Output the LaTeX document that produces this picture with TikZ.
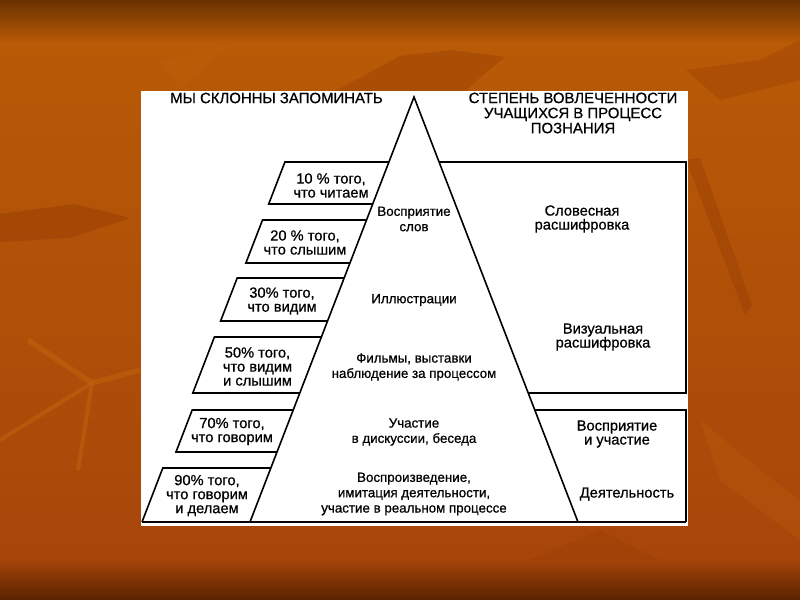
\documentclass[tikz,border=0pt]{standalone}
\usepackage{fontspec}
\setmainfont{Liberation Sans}[FakeBold=0.7]
\begin{document}
\begin{tikzpicture}[x=0.75pt,y=-0.75pt,
  ln/.style={line width=1.2pt,line join=miter},
  boxtxt/.style={align=center,inner sep=0pt,font=\fontsize{11}{10.5}\selectfont},
  pyrtxt/.style={align=center,inner sep=0pt,font=\fontsize{10}{11.5}\selectfont},
  ttl/.style={align=center,inner sep=0pt,font=\fontsize{11.2}{11.3}\selectfont}]
\definecolor{bgtop}{HTML}{6A3200}
\definecolor{bgor}{HTML}{B85A06}
\definecolor{bgmid}{HTML}{A8460A}
\definecolor{bgbot}{HTML}{5A2200}
\definecolor{leafdk}{HTML}{8E3504}
\definecolor{leaflt}{HTML}{C2640E}
\useasboundingbox (0,0) rectangle (800,600);
% background
\fill[top color=bgor,bottom color=bgmid] (0,40) rectangle (800,560);
\fill[top color=bgtop,bottom color=bgor] (0,0) rectangle (800,42);
\fill[top color=bgmid,bottom color=bgbot] (0,558) rectangle (800,600);
% leaves
\fill[leafdk,opacity=0.35] (0,214) -- (75,204) -- (130,218) -- (70,238) -- (0,242) -- cycle;
\fill[leafdk,opacity=0.3] (330,94) -- (400,56) -- (452,50) -- (505,57) -- (482,76) -- (462,94) -- cycle;
\fill[leafdk,opacity=0.3] (686,160) -- (700,158) -- (752,305) -- (745,315) -- cycle;
\draw[leaflt,opacity=0.5,line width=4pt] (28,340) -- (92,383) -- (140,370);
\draw[leaflt,opacity=0.5,line width=3pt] (0,440) -- (92,383) -- (78,470);
\fill[leaflt,opacity=0.25] (700,420) -- (760,470) -- (800,500) -- (800,540) -- (720,480) -- cycle;
\fill[leafdk,opacity=0.25] (686,70) -- (760,60) -- (800,40) -- (800,80) -- (720,100) -- cycle;
\fill[leaflt,opacity=0.2] (160,60) -- (230,45) -- (180,90) -- cycle;
\fill[leafdk,opacity=0.2] (530,560) -- (600,530) -- (660,560) -- cycle;
% white panel
\fill[white] (141,91) rectangle (688,526);
% key points
\coordinate (apex) at (414,97);
\coordinate (bl) at (250,522);
\coordinate (br) at (578,522);
% pyramid
\draw[ln] (bl) -- (apex) -- (br);
\draw[ln] (142,522) -- (686,522);
% left parallelograms
\draw[ln] (388.9,162) -- (284.9,162) -- (268.7,204) -- (372.7,204);
\draw[ln] (366.5,220) -- (262.5,220) -- (245.9,263) -- (349.9,263);
\draw[ln] (344.2,278) -- (237.2,278) -- (220.6,321) -- (327.6,321);
\draw[ln] (321.4,337) -- (214.4,337) -- (192.8,393) -- (299.8,393);
\draw[ln] (293.2,410) -- (192.2,410) -- (176,452) -- (277,452);
\draw[ln] (270.8,468) -- (162.8,468) -- (142,522);
% right boxes
\draw[ln] (439.1,162) -- (686,162) -- (686,393) -- (528.2,393);
\draw[ln] (534.8,410) -- (686,410) -- (686,522);
% titles
\node[ttl] (t1) at (276.5,98) {МЫ СКЛОННЫ ЗАПОМИНАТЬ};
\node[ttl] (t2) at (573,113) {СТЕПЕНЬ ВОВЛЕЧЕННОСТИ\\УЧАЩИХСЯ В ПРОЦЕСС\\ПОЗНАНИЯ};
% left box texts
\node[boxtxt] (l1) at (331,185.5) {10 \% того,\\что читаем};
\node[boxtxt] (l2) at (305,242.5) {20 \% того,\\что слышим};
\node[boxtxt] (l3) at (282,301) {30\% того,\\что видим};
\node[boxtxt] (l4) at (257.5,366.5) {50\% того,\\что видим\\и слышим};
\node[boxtxt] (l5) at (232,431.5) {70\% того,\\что говорим};
\node[boxtxt] (l6) at (207,495.5) {90\% того,\\что говорим\\и делаем};
% pyramid texts
\node[pyrtxt] (p1) at (414,219) {Восприятие\\слов};
\node[pyrtxt] (p2) at (414,300) {Иллюстрации};
\node[pyrtxt] (p3) at (414,367) {Фильмы, выставки\\наблюдение за процессом};
\node[pyrtxt] (p4) at (414,432) {Участие\\в дискуссии, беседа};
\node[pyrtxt] (p5) at (414,494) {Воспроизведение,\\имитация деятельности,\\участие в реальном процессе};
% right texts
\node[boxtxt] (r1) at (582,219) {Словесная\\расшифровка};
\node[boxtxt] (r2) at (603,337) {Визуальная\\расшифровка};
\node[boxtxt] (r3) at (617,434) {Восприятие\\и участие};
\node[boxtxt] (r4) at (627,494) {Деятельность};
\end{tikzpicture}
\end{document}
